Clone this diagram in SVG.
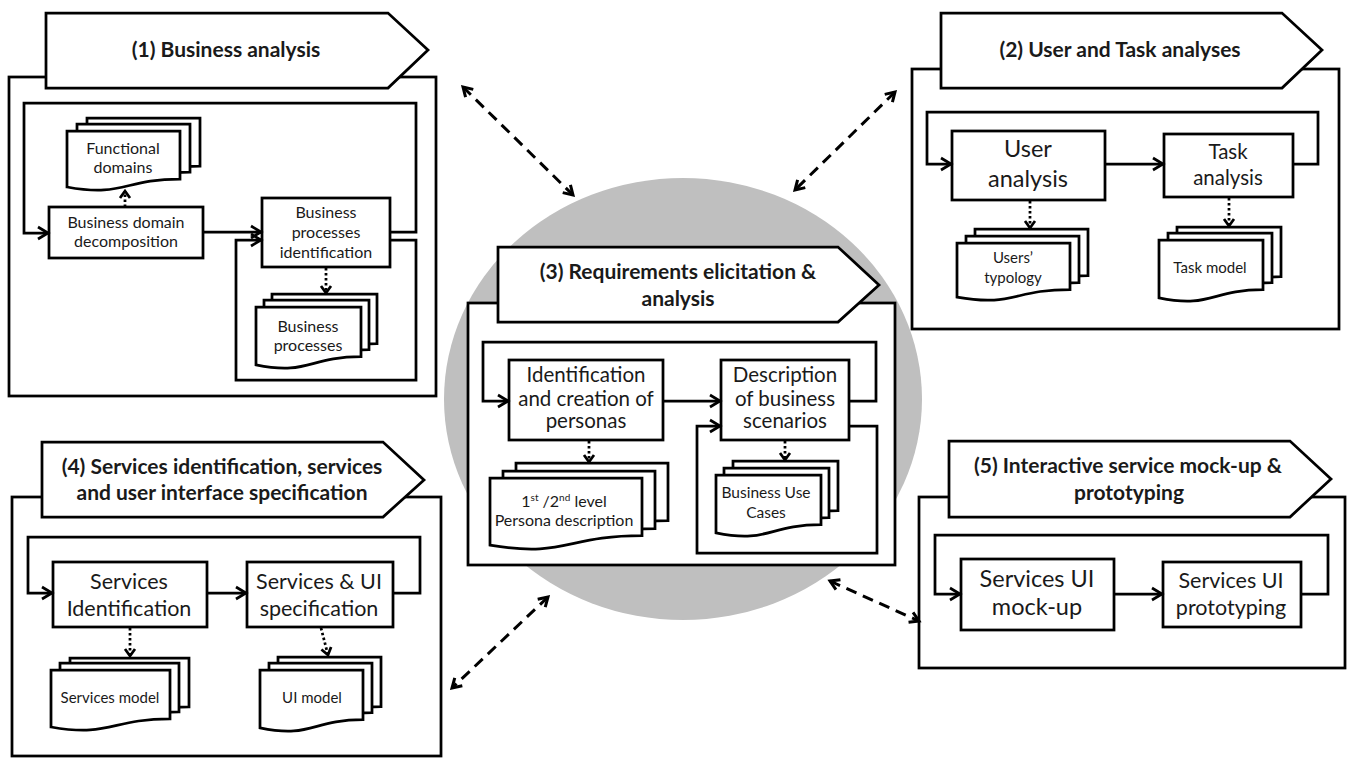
<svg xmlns="http://www.w3.org/2000/svg" width="1348" height="759" viewBox="0 0 1348 759">
<style>
.box{fill:#fff;stroke:#000;stroke-width:2.75}
.t{font-family:Lato,"Liberation Sans",Arial,sans-serif;fill:#1a1a1a;text-anchor:middle}
.h{font-weight:bold;font-size:21px}
.flow{fill:none;stroke:#000;stroke-width:2.75;marker-end:url(#ah)}
.loop{fill:none;stroke:#000;stroke-width:2.75;marker-end:url(#ah)}
.dot{fill:none;stroke:#000;stroke-width:2.75;stroke-dasharray:2.5 2.5;marker-end:url(#dh)}
.dash{fill:none;stroke:#000;stroke-width:3;stroke-dasharray:11 7;marker-start:url(#ah2);marker-end:url(#ah2)}
</style>
<defs>
<marker id="ah" markerUnits="userSpaceOnUse" markerWidth="16" markerHeight="16" viewBox="-13 -8 16 16" refX="0" refY="0" orient="auto"><path d="M-10,-6 L0,0 L-10,6" fill="none" stroke="#000" stroke-width="2.75"/></marker>
<marker id="ah2" markerUnits="userSpaceOnUse" markerWidth="16" markerHeight="16" viewBox="-13 -8 16 16" refX="0" refY="0" orient="auto-start-reverse"><path d="M-9,-5.5 L0,0 L-9,5.5" fill="none" stroke="#000" stroke-width="3"/></marker>
<marker id="dh" markerUnits="userSpaceOnUse" markerWidth="14" markerHeight="14" viewBox="-10 -7 14 14" refX="0" refY="0" orient="auto"><path d="M-7,-5 L0,0 L-7,5" fill="none" stroke="#000" stroke-width="2.75"/></marker>
</defs>
<rect width="1348" height="759" fill="#fff"/>
<ellipse id="center-circle" cx="683" cy="399" rx="239" ry="221" fill="#bfbfbf"/>

<!-- Panel 1 -->
<g id="panel1">
<rect class="box" x="9" y="77" width="427" height="319"/>
<path class="box" d="M46,13 H388 L428,50 L388,88 H46 Z"/>
<text class="t h" x="226" y="57">(1) Business analysis</text>
</g>
<g id="p1-bdd"><rect class="box" x="49" y="207" width="154" height="51"/>
<text class="t" font-size="16" x="126" y="228">Business domain</text><text class="t" font-size="16" x="126" y="247">decomposition</text></g>
<g id="p1-bpi"><rect class="box" x="262" y="198" width="128" height="69"/>
<text class="t" font-size="16" x="326" y="218">Business</text><text class="t" font-size="16" x="326" y="238">processes</text><text class="t" font-size="16" x="326" y="258">identification</text></g>
<g id="p1-fd">
<path class="box" d="M87,118 H200 V166.1 C143.5,166.1 143.5,184.4 87,174 Z"/>
<path class="box" d="M77,124 H190 V172.1 C133.5,172.1 133.5,190.4 77,180 Z"/>
<path class="box" d="M67,131 H180 V179.1 C123.5,179.1 123.5,197.4 67,187 Z"/>
<text class="t" font-size="16" x="123" y="154">Functional</text><text class="t" font-size="16" x="123" y="173">domains</text></g>
<g id="p1-bp">
<path class="box" d="M272,294 H377 V343.7 C324.5,343.7 324.5,362.6 272,351.9 Z"/>
<path class="box" d="M264,300 H369 V349.7 C316.5,349.7 316.5,368.6 264,357.9 Z"/>
<path class="box" d="M256,307 H361 V356.7 C308.5,356.7 308.5,375.6 256,364.9 Z"/>
<text class="t" font-size="16" x="308" y="332">Business</text><text class="t" font-size="16" x="308" y="351">processes</text></g>

<!-- Panel 2 -->
<g id="panel2">
<rect class="box" x="912" y="69" width="427" height="260"/>
<path class="box" d="M941,13 H1282 L1322,50 L1282,88 H941 Z"/>
<text class="t h" x="1120" y="57">(2) User and Task analyses</text>
</g>
<g id="p2-user"><rect class="box" x="952" y="131" width="153" height="69"/>
<text class="t" font-size="23.5" x="1028" y="157">User</text><text class="t" font-size="23.5" x="1028" y="187">analysis</text></g>
<g id="p2-task"><rect class="box" x="1164" y="134" width="129" height="63"/>
<text class="t" font-size="20.5" x="1228" y="159">Task</text><text class="t" font-size="20.5" x="1228" y="185">analysis</text></g>
<g id="p2-ut">
<path class="box" d="M975,229 H1088 V275.5 C1031.5,275.5 1031.5,293.2 975,283.2 Z"/>
<path class="box" d="M966,236 H1079 V282.5 C1022.5,282.5 1022.5,300.2 966,290.2 Z"/>
<path class="box" d="M957,243 H1070 V289.5 C1013.5,289.5 1013.5,307.2 957,297.2 Z"/>
<text class="t" font-size="15" x="1013" y="263">Users’</text><text class="t" font-size="15" x="1013" y="283">typology</text></g>
<g id="p2-tm">
<path class="box" d="M1177,227 H1281 V276.7 C1229,276.7 1229,295.6 1177,284.9 Z"/>
<path class="box" d="M1168,233 H1272 V282.7 C1220,282.7 1220,301.6 1168,290.9 Z"/>
<path class="box" d="M1159,240 H1263 V289.7 C1211,289.7 1211,308.6 1159,297.9 Z"/>
<text class="t" font-size="15" x="1210" y="273">Task model</text></g>

<!-- Panel 3 -->
<g id="panel3">
<rect class="box" x="468" y="303" width="427" height="262"/>
<path class="box" d="M498,247 H838 L879,285 L838,322 H498 Z"/>
<text class="t h" x="678" y="279">(3) Requirements elicitation &amp;</text>
<text class="t h" x="678" y="306">analysis</text>
</g>
<g id="p3-personas"><rect class="box" x="509" y="360" width="154" height="80"/>
<text class="t" font-size="20.5" x="586" y="382">Identification</text><text class="t" font-size="20.5" x="586" y="406">and creation of</text><text class="t" font-size="20.5" x="586" y="428">personas</text></g>
<g id="p3-scen"><rect class="box" x="721" y="360" width="128" height="80"/>
<text class="t" font-size="20.5" x="785" y="382">Description</text><text class="t" font-size="20.5" x="785" y="406">of business</text><text class="t" font-size="20.5" x="785" y="428">scenarios</text></g>
<g id="p3-pd">
<path class="box" d="M516,463 H668 V520.7 C592,520.7 592,542.7 516,530.2 Z"/>
<path class="box" d="M503,471 H655 V528.7 C579,528.7 579,550.7 503,538.2 Z"/>
<path class="box" d="M490,478 H642 V535.7 C566,535.7 566,557.7 490,545.2 Z"/>
<text class="t" font-size="16" x="564" y="507">1<tspan font-size="10" dy="-6">st</tspan><tspan dy="6">  /2</tspan><tspan font-size="10" dy="-6">nd</tspan><tspan dy="6"> level</tspan></text>
<text class="t" font-size="16" x="564" y="526">Persona description</text></g>
<g id="p3-buc">
<path class="box" d="M733,461 H838 V510.7 C785.5,510.7 785.5,529.6 733,518.9 Z"/>
<path class="box" d="M724,468 H829 V517.7 C776.5,517.7 776.5,536.6 724,525.9 Z"/>
<path class="box" d="M716,475 H821 V524.7 C768.5,524.7 768.5,543.6 716,532.9 Z"/>
<text class="t" font-size="15.5" x="766" y="498">Business Use</text><text class="t" font-size="15.5" x="766" y="518">Cases</text></g>

<!-- Panel 4 -->
<g id="panel4">
<rect class="box" x="12" y="497" width="429" height="259"/>
<path class="box" d="M42,442 H383 L424,480 L383,517 H42 Z"/>
<text class="t h" x="222" y="474">(4) Services identification, services</text>
<text class="t h" x="222" y="500">and user interface specification</text>
</g>
<g id="p4-si"><rect class="box" x="53" y="562" width="154" height="65"/>
<text class="t" font-size="21.5" x="129" y="589">Services</text><text class="t" font-size="21.5" x="129" y="616">Identification</text></g>
<g id="p4-spec"><rect class="box" x="247" y="562" width="146" height="65"/>
<text class="t" font-size="21.5" x="319" y="589">Services &amp; UI</text><text class="t" font-size="21.5" x="319" y="616">specification</text></g>
<g id="p4-sm">
<path class="box" d="M70,658 H189 V706.9 C129.5,706.9 129.5,725.5 70,715 Z"/>
<path class="box" d="M60,663 H179 V711.9 C119.5,711.9 119.5,730.5 60,720 Z"/>
<path class="box" d="M51,670 H170 V718.9 C110.5,718.9 110.5,737.5 51,727 Z"/>
<text class="t" font-size="15" x="110" y="703">Services model</text></g>
<g id="p4-ui">
<path class="box" d="M278,657 H381 V706.7 C329.5,706.7 329.5,725.6 278,714.9 Z"/>
<path class="box" d="M269,663 H372 V712.7 C320.5,712.7 320.5,731.6 269,720.9 Z"/>
<path class="box" d="M260,670 H363 V719.7 C311.5,719.7 311.5,738.6 260,727.9 Z"/>
<text class="t" font-size="15" x="312" y="703">UI model</text></g>

<!-- Panel 5 -->
<g id="panel5">
<rect class="box" x="919" y="497" width="426" height="171"/>
<path class="box" d="M949,441 H1290 L1331,479 L1290,517 H949 Z"/>
<text class="t h" x="1128" y="473">(5) Interactive service mock-up  &amp;</text>
<text class="t h" x="1129" y="500">prototyping</text>
</g>
<g id="p5-mock"><rect class="box" x="961" y="559" width="153" height="71"/>
<text class="t" font-size="23.5" x="1037" y="587">Services UI</text><text class="t" font-size="23.5" x="1037" y="615">mock-up</text></g>
<g id="p5-proto"><rect class="box" x="1163" y="562" width="138" height="65"/>
<text class="t" font-size="21.5" x="1231" y="588">Services UI</text><text class="t" font-size="21.5" x="1231" y="615">prototyping</text></g>

<g id="connectors">
<path class="loop" d="M390,232 H416 V103 H24 V233 H48"/>
<path class="loop" d="M390,240 H416 V380 H236 V240 H261"/>
<path class="flow" d="M203,232 H261"/>
<path class="dot" d="M125,207 V191"/>
<path class="dot" d="M326,268 V293"/>
<path class="loop" d="M1293,164 H1318 V112 H927 V164 H951"/>
<path class="flow" d="M1105,164 H1163"/>
<path class="dot" d="M1030,201 V228"/>
<path class="dot" d="M1229,198 V226"/>
<path class="loop" d="M849,401 H876 V342 H483 V401 H508"/>
<path class="loop" d="M849,426 H877 V553 H697 V426 H720"/>
<path class="flow" d="M663,401 H720"/>
<path class="dot" d="M589,441 V462"/>
<path class="dot" d="M785,441 V460"/>
<path class="loop" d="M393,593 H420 V537 H28 V593 H52"/>
<path class="flow" d="M207,593 H246"/>
<path class="dot" d="M130,628 V656"/>
<path class="dot" d="M321,628 L328,655"/>
<path class="loop" d="M1301,594 H1328 V535 H935 V594 H960"/>
<path class="flow" d="M1114,594 H1162"/>
<path class="dash" d="M463,87 L573,195"/>
<path class="dash" d="M895,92 L795,190"/>
<path class="dash" d="M548,597 L452,688"/>
<path class="dash" d="M830,581 L919,621"/>
</g>
</svg>
